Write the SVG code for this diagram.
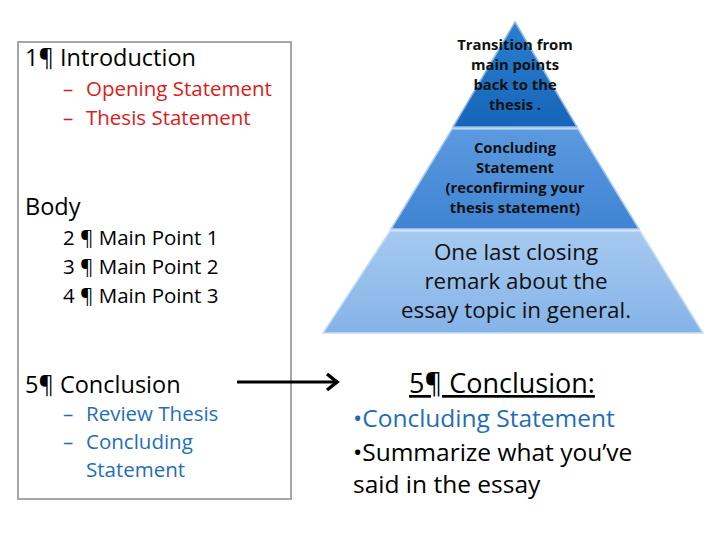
<svg xmlns="http://www.w3.org/2000/svg" width="728" height="546" viewBox="0 0 728 546">
<style>
text{font-family:"Open Sans","Liberation Sans",Arial,sans-serif;}
.h{font-size:23.5px;fill:#000;}
.s{font-size:20.5px;}
.red{fill:#e01a1a;}
.blue{fill:#1f6fb5;}
.blk{fill:#000;}
.pt{font-size:14.8px;font-weight:bold;fill:#111;text-anchor:middle;}
.pb{font-size:22.4px;fill:#111;text-anchor:middle;}
.r{font-size:24.5px;}
</style>
<defs>
<linearGradient id="g1" x1="0" y1="0" x2="0" y2="1"><stop offset="0" stop-color="#2a7fd0"/><stop offset="1" stop-color="#1565b8"/></linearGradient>
<linearGradient id="g2" x1="0" y1="0" x2="0" y2="1"><stop offset="0" stop-color="#5b9ae0"/><stop offset="1" stop-color="#3f83d2"/></linearGradient>
<linearGradient id="g3" x1="0" y1="0" x2="0" y2="1"><stop offset="0" stop-color="#a6caf0"/><stop offset="1" stop-color="#85b3e8"/></linearGradient>
<marker id="ah" viewBox="0 0 16 20" refX="13" refY="10" markerWidth="16" markerHeight="20" orient="auto" markerUnits="userSpaceOnUse">
<path d="M3,2 L13,10 L3,18" fill="none" stroke="#000" stroke-width="3.5" stroke-linejoin="miter"/>
</marker>
</defs>
<rect width="728" height="546" fill="#fff"/>
<g id="outline">
<rect x="18" y="42" width="273" height="457" fill="#fff" stroke="#a6a6a6" stroke-width="2"/>
<text class="h" x="25" y="66">1¶ Introduction</text>
<text class="s red" x="63" y="96">–</text><text class="s red" x="86" y="96">Opening Statement</text>
<text class="s red" x="63" y="125">–</text><text class="s red" x="86" y="125">Thesis Statement</text>
<text class="h" x="25" y="215">Body</text>
<text class="s blk" x="63" y="245">2 ¶ Main Point 1</text>
<text class="s blk" x="63" y="274">3 ¶ Main Point 2</text>
<text class="s blk" x="63" y="303">4 ¶ Main Point 3</text>
<text class="h" x="25" y="393">5¶ Conclusion</text>
<text class="s blue" x="63" y="421">–</text><text class="s blue" x="86" y="421">Review Thesis</text>
<text class="s blue" x="63" y="449">–</text>
<text class="s blue" x="86" y="449">Concluding</text>
<text class="s blue" x="86" y="477">Statement</text>
</g>
<g id="pyramid-top">
<polygon points="515,22 577,127 453,127" fill="url(#g1)" stroke="#8fb8e4" stroke-width="1.5"/>
<text class="pt" x="515" y="50">Transition from</text>
<text class="pt" x="515" y="70">main points</text>
<text class="pt" x="515" y="90">back to the</text>
<text class="pt" x="515" y="110">thesis .</text>
</g>
<g id="pyramid-middle">
<polygon points="452,129 578,129 639,229 391,229" fill="url(#g2)" stroke="#a9cbef" stroke-width="1.5"/>
<text class="pt" x="515" y="153">Concluding</text>
<text class="pt" x="515" y="173">Statement</text>
<text class="pt" x="515" y="193">(reconfirming your</text>
<text class="pt" x="515" y="213">thesis statement)</text>
</g>
<g id="pyramid-bottom">
<polygon points="390,231 640,231 703,333 323,333" fill="url(#g3)" stroke="#c8ddf4" stroke-width="1.5"/>
<text class="pb" x="516" y="260">One last closing</text>
<text class="pb" x="516" y="289">remark about the</text>
<text class="pb" x="516" y="318">essay topic in general.</text>
</g>
<g id="connectors">
<line x1="237" y1="382" x2="337" y2="382" stroke="#000" stroke-width="3" marker-end="url(#ah)"/>
</g>
<g id="conclusion">
<text x="502" y="393" font-size="27" text-anchor="middle" text-decoration="underline" fill="#000">5¶ Conclusion:</text>
<text class="r blue" x="353" y="427">•Concluding Statement</text>
<text class="r blk" x="353" y="461">•Summarize what you’ve</text>
<text class="r blk" x="353" y="493">said in the essay</text>
</g>
</svg>
